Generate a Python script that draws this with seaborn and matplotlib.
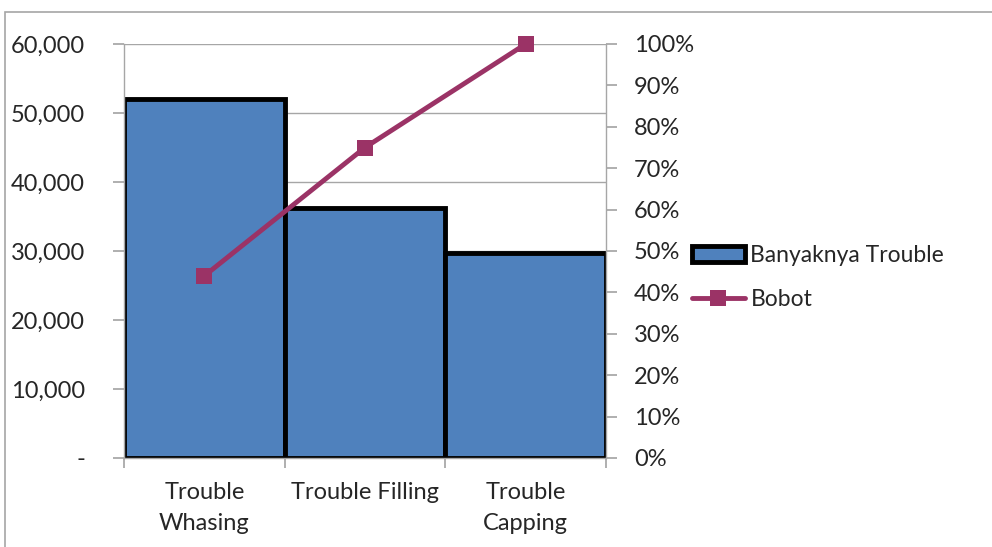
import matplotlib
matplotlib.use("Agg")
import matplotlib.pyplot as plt
from matplotlib.patches import Rectangle, Patch
from matplotlib.lines import Line2D
from matplotlib.ticker import FuncFormatter, MultipleLocator
import seaborn as sns
import pandas as pd

categories = ["Trouble\nWhasing", "Trouble Filling", "Trouble\nCapping"]
banyaknya = [52000, 36300, 29700]
bobot = [0.44, 0.75, 1.00]

bar_color = "#4F81BD"
line_color = "#9B3366"
grid_color = "#A6A6A6"
fs = 17

sns.set_theme(style="white")
plt.rcParams["font.family"] = ["Lato", "DejaVu Sans"]

df = pd.DataFrame({"kategori": categories, "banyaknya": banyaknya, "bobot": bobot})

fig = plt.figure(figsize=(9.92, 5.47), dpi=100)
fig.patches.append(Rectangle((5 / 992, -0.1), 1.2, 1.1 - 12 / 547,
                             transform=fig.transFigure, fill=False,
                             edgecolor="#A6A6A6", linewidth=1.2))

ax = fig.add_axes([124 / 992, 1 - 458 / 547, (606 - 124) / 992, (458 - 44) / 547])

sns.barplot(data=df, x="kategori", y="banyaknya", ax=ax, color=bar_color,
            width=1.0, edgecolor="black", linewidth=3.5, saturation=1)

ax.set_ylim(0, 60000)
ax.set_xlim(-0.5, 2.5)
ax.yaxis.set_major_locator(MultipleLocator(10000))
ax.yaxis.set_major_formatter(FuncFormatter(lambda v, p: "-" if v == 0 else f"{int(v):,}"))
ax.grid(axis="y", color=grid_color, linewidth=1)
ax.set_axisbelow(True)
ax.set_xlabel("")
ax.set_ylabel("")

# category ticks sit on the boundaries between bars
ax.set_xticks([-0.5, 0.5, 1.5, 2.5])
ax.set_xticklabels([])
ax.set_xticks([0, 1, 2], minor=True)
ax.set_xticklabels(categories, minor=True, fontsize=fs, linespacing=1.6)
ax.tick_params(axis="x", which="major", length=7, color=grid_color, direction="out")
ax.tick_params(axis="x", which="minor", length=0, pad=17)
ax.tick_params(axis="y", length=8, color=grid_color, direction="out", labelsize=fs, pad=20)
ax.tick_params(left=True, bottom=True)

for s in ["top", "right"]:
    ax.spines[s].set_visible(False)
for s in ["left", "bottom"]:
    ax.spines[s].set_color(grid_color)
    ax.spines[s].set_linewidth(1)

ax2 = ax.twinx()
sns.lineplot(x=[0, 1, 2], y=df["bobot"], ax=ax2, color=line_color, linewidth=3.5,
             marker="s", markersize=12, markeredgewidth=0, legend=False)
for ln in ax2.lines:
    ln.set_clip_on(False)
ax2.set_ylim(0, 1.0)
ax2.yaxis.set_major_locator(MultipleLocator(0.1))
ax2.yaxis.set_major_formatter(FuncFormatter(lambda v, p: f"{v * 100:.0f}%"))
ax2.tick_params(axis="y", right=True, length=8, color=grid_color, direction="out",
                labelsize=fs, pad=12)
ax2.set_ylabel("")
for s in ["top", "left", "bottom"]:
    ax2.spines[s].set_visible(False)
ax2.spines["right"].set_color(grid_color)
ax2.spines["right"].set_linewidth(1)
ax2.grid(False)

handles = [
    Patch(facecolor=bar_color, edgecolor="black", linewidth=3.5, label="Banyaknya Trouble"),
    Line2D([0], [0], color=line_color, linewidth=3.5, marker="s", markersize=12,
           markeredgewidth=0, label="Bobot"),
]
fig.legend(handles=handles, loc="upper left", bbox_to_anchor=(692 / 992, 1 - 245 / 547),
           frameon=False, fontsize=16.5, handlelength=2.3, handletextpad=0.25,
           labelspacing=1.0, borderaxespad=0, borderpad=0)

fig.savefig("out.png", dpi=100)
